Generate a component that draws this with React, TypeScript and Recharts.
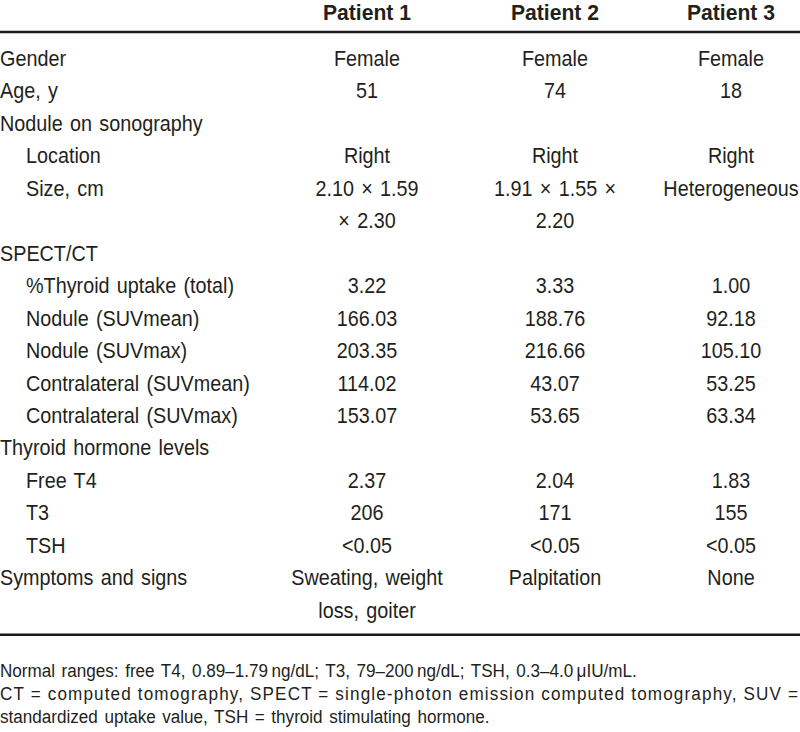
import React from "react";
import { ScatterChart, Scatter, XAxis, YAxis, ReferenceLine } from "recharts";

// ---- data ----
const headers = ["Patient 1", "Patient 2", "Patient 3"];

const rowLabels = [
  "Gender",
  "Age, y",
  "Nodule on sonography",
  "Location",
  "Size, cm",
  "SPECT/CT",
  "%Thyroid uptake (total)",
  "Nodule (SUVmean)",
  "Nodule (SUVmax)",
  "Contralateral (SUVmean)",
  "Contralateral (SUVmax)",
  "Thyroid hormone levels",
  "Free T4",
  "T3",
  "TSH",
  "Symptoms and signs",
];
const rowLevels = [0, 0, 0, 1, 1, 0, 1, 1, 1, 1, 1, 0, 1, 1, 1, 0];

const patient1 = [
  "Female", "51", "", "Right", "2.10 \u00d7 1.59|\u00d7 2.30", "",
  "3.22", "166.03", "203.35", "114.02", "153.07", "",
  "2.37", "206", "<0.05", "Sweating, weight|loss, goiter",
];
const patient2 = [
  "Female", "74", "", "Right", "1.91 \u00d7 1.55 \u00d7|2.20", "",
  "3.33", "188.76", "216.66", "43.07", "53.65", "",
  "2.04", "171", "<0.05", "Palpitation",
];
const patient3 = [
  "Female", "18", "", "Right", "Heterogeneous", "",
  "1.00", "92.18", "105.10", "53.25", "63.34", "",
  "1.83", "155", "<0.05", "None",
];

const footnotes = [
  "Normal ranges: free T4, 0.89\u20131.79\u2009ng/dL; T3, 79\u2013200\u2009ng/dL; TSH, 0.3\u20134.0\u2009\u03bcIU/mL.",
  "CT = computed tomography, SPECT = single-photon emission computed tomography, SUV =",
  "standardized uptake value, TSH = thyroid stimulating hormone.",
];
const footnoteJustified = [false, true, false];

// ---- layout ----
const W = 800;
const H = 732;
const COL_X = [0, 367, 555, 731];
const INDENT = 26;
const LINE_PX = 32.45;
const FIRST_BASE = 66;
const HEADER_LINE = -1.42;
const TOP_RULE = -1.05;
const BOTTOM_RULE = 17.53;
const FOOT_START = 18.83;
const FOOT_PITCH = 0.709;
const Y_MIN = -FIRST_BASE / LINE_PX;
const Y_MAX = (H - FIRST_BASE) / LINE_PX;
const TEXT = "#231f20";
const FONT = "'Liberation Sans', Arial, sans-serif";
const FOOT_SIZE = 19;
const FOOT_SX = 0.9;

type Cell = {
  x: number;
  y: number;
  text: string;
  anchor: "start" | "middle";
  kind: "head" | "body" | "foot";
  justify?: boolean;
};

function buildCells(): Cell[] {
  const cells: Cell[] = [];
  headers.forEach((h, i) =>
    cells.push({ x: COL_X[i + 1], y: HEADER_LINE, text: h, anchor: "middle", kind: "head" })
  );
  const cols = [patient1, patient2, patient3];
  let line = 0;
  rowLabels.forEach((label, r) => {
    cells.push({
      x: COL_X[0] + rowLevels[r] * INDENT,
      y: line,
      text: label,
      anchor: "start",
      kind: "body",
    });
    let maxLines = 1;
    cols.forEach((col, c) => {
      const parts = col[r] ? col[r].split("|") : [];
      maxLines = Math.max(maxLines, parts.length);
      parts.forEach((p, k) =>
        cells.push({ x: COL_X[c + 1], y: line + k, text: p, anchor: "middle", kind: "body" })
      );
    });
    line += maxLines;
  });
  footnotes.forEach((f, i) =>
    cells.push({
      x: 0,
      y: FOOT_START + i * FOOT_PITCH,
      text: f,
      anchor: "start",
      kind: "foot",
      justify: footnoteJustified[i],
    })
  );
  return cells;
}

const cells = buildCells();

const CellText = (props: any) => {
  const { cx, cy, payload } = props;
  const c: Cell = payload;
  if (c.kind === "foot") {
    return (
      <text
        transform={`translate(${cx},${cy}) scale(${FOOT_SX},1)`}
        x={0}
        y={0}
        fontFamily={FONT}
        fontSize={FOOT_SIZE}
        fill={TEXT}
        textAnchor="start"
        style={{ wordSpacing: c.justify ? 0 : 2 }}
        {...(c.justify ? { textLength: (W - 2) / FOOT_SX, lengthAdjust: "spacing" } : {})}
      >
        {c.text}
      </text>
    );
  }
  const bold = c.kind === "head";
  const sx = bold ? 0.96 : 0.9;
  return (
    <text
      transform={`translate(${cx},${cy}) scale(${sx},1)`}
      x={0}
      y={0}
      fontFamily={FONT}
      fontSize={22}
      fontWeight={bold ? 700 : 400}
      fill={TEXT}
      textAnchor={c.anchor}
      style={{ wordSpacing: bold ? 0 : 2 }}
    >
      {c.text}
    </text>
  );
};

export default function App() {
  return (
    <div style={{ position: "absolute", left: 0, top: 0, width: W, height: H, background: "#fff" }}>
      <ScatterChart width={W} height={H} margin={{ top: 0, right: 0, bottom: 0, left: 0 }}>
        <XAxis type="number" dataKey="x" domain={[0, W]} hide allowDataOverflow />
        <YAxis type="number" dataKey="y" domain={[Y_MIN, Y_MAX]} reversed hide allowDataOverflow />
        <ReferenceLine y={TOP_RULE} stroke="#1a1a1a" strokeWidth={2.5} />
        <ReferenceLine y={BOTTOM_RULE} stroke="#1a1a1a" strokeWidth={2.5} />
        <Scatter data={cells} shape={CellText} isAnimationActive={false} />
      </ScatterChart>
    </div>
  );
}
